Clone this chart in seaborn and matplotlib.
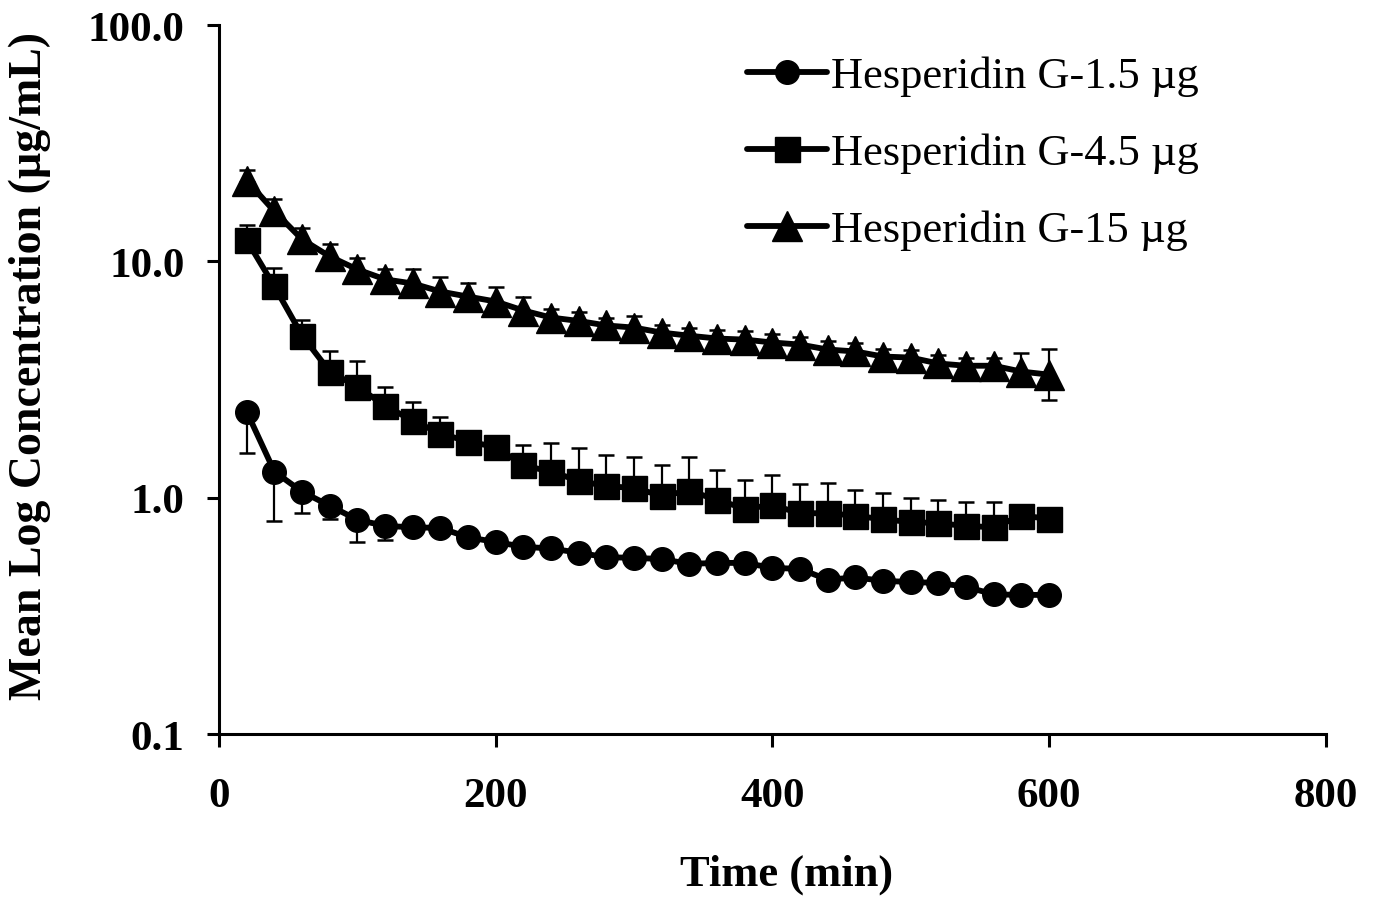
import pandas as pd
import matplotlib
matplotlib.use("Agg")
import matplotlib.pyplot as plt
from matplotlib.lines import Line2D
from matplotlib.ticker import NullLocator
import seaborn as sns

# sampling times (min)
time_min = [20, 40, 60, 80, 100, 120, 140, 160, 180, 200,
            220, 240, 260, 280, 300, 320, 340, 360, 380, 400,
            420, 440, 460, 480, 500, 520, 540, 560, 580, 600]

# mean concentrations (ug/mL)
conc_1_5 = [2.31, 1.29, 1.06, 0.925, 0.807, 0.76, 0.75, 0.745, 0.68, 0.65,
            0.62, 0.61, 0.585, 0.56, 0.557, 0.55, 0.525, 0.53, 0.53, 0.505,
            0.50, 0.45, 0.46, 0.445, 0.44, 0.436, 0.42, 0.39, 0.388, 0.388]
conc_4_5 = [12.3, 7.84, 4.86, 3.42, 2.95, 2.45, 2.12, 1.87, 1.73, 1.64,
            1.37, 1.29, 1.18, 1.12, 1.10, 1.02, 1.07, 0.98, 0.90, 0.93,
            0.86, 0.86, 0.84, 0.81, 0.79, 0.78, 0.76, 0.75, 0.84, 0.815]
conc_15 = [22.0, 16.3, 12.4, 10.5, 9.25, 8.4, 8.07, 7.46, 7.1, 6.77,
           6.2, 5.79, 5.6, 5.36, 5.25, 5.0, 4.85, 4.72, 4.67, 4.54,
           4.45, 4.24, 4.16, 3.96, 3.92, 3.7, 3.62, 3.62, 3.42, 3.32]

# error bars (lower / upper)
err_1_5_lo = [0.76, 0.49, 0.2, 0.11, 0.16, 0.1, 0.04, 0.04, 0.03, 0.03,
              0.03, 0.03, 0.03, 0.03, 0.03, 0.03, 0.02, 0.02, 0.02, 0.02,
              0.02, 0.02, 0.02, 0.02, 0.02, 0.02, 0.02, 0.02, 0.02, 0.02]
err_1_5_hi = [0.0] * 30
err_4_5_lo = [0.0] * 30
err_4_5_hi = [2.0, 1.5, 0.8, 0.75, 0.85, 0.5, 0.43, 0.33, 0.1, 0.1,
              0.31, 0.42, 0.45, 0.4, 0.39, 0.35, 0.42, 0.33, 0.29, 0.32,
              0.28, 0.29, 0.24, 0.24, 0.21, 0.2, 0.2, 0.21, 0.05, 0.05]
err_15_lo = [0.3] * 29 + [0.72]
err_15_hi = [2.3, 2.0, 1.5, 1.3, 1.1, 0.9, 1.2, 1.1, 1.0, 1.0,
             0.85, 0.5, 0.5, 0.4, 0.6, 0.4, 0.4, 0.4, 0.4, 0.4,
             0.35, 0.35, 0.35, 0.3, 0.3, 0.3, 0.3, 0.3, 0.66, 0.95]

series_names = ["Hesperidin G-1.5 µg", "Hesperidin G-4.5 µg", "Hesperidin G-15 µg"]
series_conc = [conc_1_5, conc_4_5, conc_15]
series_err = [(err_1_5_lo, err_1_5_hi), (err_4_5_lo, err_4_5_hi), (err_15_lo, err_15_hi)]
markers = ["o", "s", "^"]
marker_sizes = [17, 18, 22]

y_ticks = [0.1, 1, 10, 100]
y_tick_labels = ["0.1", "1.0", "10.0", "100.0"]
x_ticks = [0, 200, 400, 600, 800]

df = pd.concat([pd.DataFrame({"time": time_min, "conc": c, "group": n})
                for n, c in zip(series_names, series_conc)], ignore_index=True)

sns.set_style("ticks")
plt.rcParams["font.family"] = ["Liberation Serif", "DejaVu Serif"]
for key in ["text.color", "axes.labelcolor", "xtick.color", "ytick.color", "axes.edgecolor"]:
    plt.rcParams[key] = "black"

fig = plt.figure(figsize=(13.78, 9.03), dpi=100)
ax = fig.add_axes([0.159, 0.186, 0.803, 0.785])

for name, mk, ms, (lo, hi) in zip(series_names, markers, marker_sizes, series_err):
    sub = df[df["group"] == name]
    ax.errorbar(sub["time"], sub["conc"], yerr=[lo, hi], fmt="none",
                ecolor="black", elinewidth=1.6, capsize=6, capthick=1.8, zorder=1.5)
    sns.lineplot(data=sub, x="time", y="conc", ax=ax, color="black",
                 linewidth=4.2, marker=mk, markersize=ms, markeredgecolor="black",
                 markeredgewidth=1, legend=False, zorder=3)

ax.set_yscale("log")
ax.set_ylim(0.1, 100)
ax.set_xlim(0, 800)
ax.set_yticks(y_ticks, labels=y_tick_labels)
ax.set_xticks(x_ticks)
ax.yaxis.set_minor_locator(NullLocator())

sns.despine(ax=ax)
for s in ["left", "bottom"]:
    ax.spines[s].set_linewidth(2.2)
    ax.spines[s].set_color("black")
ax.tick_params(axis="both", direction="out", length=9, width=2.2, labelsize=31,
               colors="black")
ax.tick_params(axis="x", pad=22)
ax.tick_params(axis="y", pad=16)
for lab in ax.get_xticklabels() + ax.get_yticklabels():
    lab.set_fontweight("bold")

ax.set_xlabel("Time (min)", fontsize=32, fontweight="bold", color="black")
ax.set_ylabel("Mean Log Concentration (µg/mL)", fontsize=33, fontweight="bold",
              color="black")
ax.xaxis.set_label_coords(0.513, -0.168)
ax.yaxis.set_label_coords(-0.152, 0.52)

handles = [Line2D([], [], color="black", linewidth=4.2, marker=mk, markersize=ms,
                  markeredgewidth=1) for mk, ms in zip(markers, marker_sizes)]
leg = ax.legend(handles, series_names, loc="upper left", bbox_to_anchor=(0.477, 0.957),
                frameon=False, fontsize=32, handlelength=1.8, handletextpad=0.1,
                labelspacing=0.82, borderpad=0, borderaxespad=0)
for t in leg.get_texts():
    t.set_color("black")

fig.savefig("out.png", dpi=100)
